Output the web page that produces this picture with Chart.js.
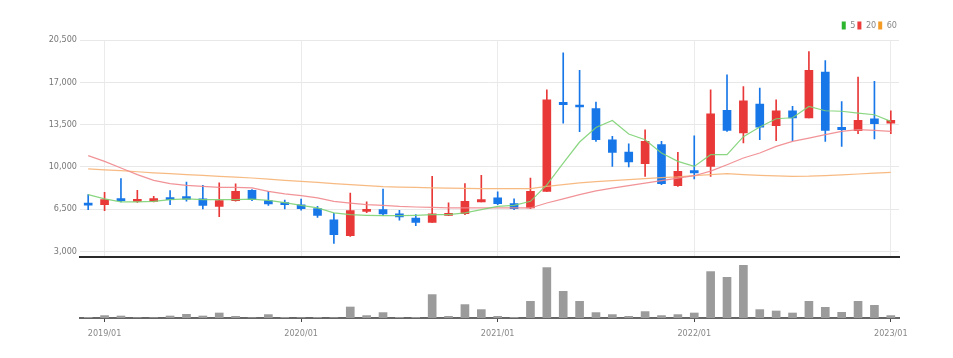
<!DOCTYPE html>
<html><head><meta charset="utf-8">
<script src="https://cdn.jsdelivr.net/npm/chart.js@4.4.0/dist/chart.umd.min.js"></script>
<style>
html,body{margin:0;padding:0;background:#fff;}
#wrap{position:relative;width:953px;height:358px;overflow:hidden;background:#fff;}
#top{position:absolute;left:0;top:0;width:953px;height:265px;}
#vol{position:absolute;left:0;top:258px;width:953px;height:100px;}
</style></head><body>
<div id="wrap"><canvas id="top" width="953" height="265"></canvas><canvas id="vol" width="953" height="100"></canvas></div>
<script>
const months = ['2018/12','2019/01','2019/02','2019/03','2019/04','2019/05','2019/06','2019/07','2019/08','2019/09','2019/10','2019/11','2019/12',
'2020/01','2020/02','2020/03','2020/04','2020/05','2020/06','2020/07','2020/08','2020/09','2020/10','2020/11','2020/12',
'2021/01','2021/02','2021/03','2021/04','2021/05','2021/06','2021/07','2021/08','2021/09','2021/10','2021/11','2021/12',
'2022/01','2022/02','2022/03','2022/04','2022/05','2022/06','2022/07','2022/08','2022/09','2022/10','2022/11','2022/12','2023/01'];

const opens  = [6990,6860,7340,7140,7140,7360,7530,7340,6720,7200,8050,7200,7010,6840,6530,5600,4300,6310,6450,6100,5760,5400,5980,6120,7090,7420,6950,6590,7960,15330,15080,14810,12240,11220,10260,11830,8440,9680,10030,14670,12800,15200,13400,14640,14040,17840,13260,12990,13980,13620];
const highs  = [7690,7880,9020,8050,7550,8020,8740,8460,8680,8580,8110,7960,7240,7320,6720,6140,7830,7090,8160,6390,6040,9210,7010,8600,9290,7920,7340,9070,16380,19440,17980,15360,12520,11910,13070,12100,11190,12570,16380,17620,16650,16520,15550,15000,19550,18800,15410,17430,17070,14640];
const lows   = [6450,6370,7090,7050,7090,6860,7150,6510,5870,7150,7200,6800,6510,6410,5810,3660,4240,6200,5950,5570,5130,5400,5950,6040,7090,6860,6450,6530,7960,13620,12900,12100,10030,9980,9210,8520,8380,8990,9210,12930,11970,12240,12160,12160,14040,12100,11690,12740,12300,12740];
const closes = [6820,7280,7200,7280,7360,7280,7320,6800,7200,7960,7280,6920,6860,6530,5980,4380,6370,6450,6100,5850,5400,6100,6120,7140,7280,6950,6530,7960,15550,15140,14950,12240,11190,10400,12100,8600,9620,9490,14390,13010,15470,13290,14640,14040,17980,13010,13070,13840,13570,13840];

const ma5  = [7690,7340,7090,7090,7140,7280,7340,7280,7280,7280,7320,7210,7030,6810,6590,6180,6040,5980,5950,5950,5980,6040,6040,6180,6450,6720,6810,7140,8500,10300,12050,13250,13840,12710,12240,11140,10450,10030,11000,11000,12490,13290,13980,14060,15000,14640,14600,14450,14310,13760];
const ma20 = [10920,10450,9900,9350,8880,8600,8460,8380,8300,8300,8250,7960,7750,7610,7420,7140,6990,6860,6810,6720,6670,6640,6590,6590,6590,6590,6590,6590,7000,7340,7690,8000,8230,8440,8640,8850,9060,9260,9640,10170,10730,11140,11690,12100,12380,12660,12930,13070,13010,12930];
const ma60 = [9820,9740,9680,9590,9500,9430,9350,9280,9210,9140,9070,8970,8880,8790,8710,8600,8520,8440,8350,8310,8290,8250,8230,8210,8190,8190,8190,8190,8380,8520,8660,8770,8850,8930,9020,9100,9160,9260,9350,9430,9350,9290,9250,9210,9220,9260,9330,9400,9470,9540];

const volumes = [7000,24000,20000,4000,4000,20000,37000,20000,50000,17000,4000,34000,7000,4000,7000,4000,110000,24000,54000,7000,7000,234000,17000,134000,84000,17000,7000,167000,504000,267000,167000,54000,34000,17000,64000,24000,34000,50000,464000,407000,527000,84000,70000,50000,167000,107000,57000,167000,127000,24000];

const yTicks = [3000,6500,10000,13500,17000,20500];
const maNames = ['5','20','60'];

const UP = '#e93838', DOWN = '#1877e8';
const FONT = "'Liberation Sans Narrow','DejaVu Sans Condensed','Roboto',sans-serif";
Chart.defaults.font.family = FONT;
Chart.defaults.font.size = 9;
Chart.defaults.color = '#777';

const isJan = i => months[i] && months[i].endsWith('/01');
const candleColor = c => closes[c.dataIndex] >= opens[c.dataIndex] ? UP : DOWN;

new Chart(document.getElementById('top'), {
  data: {
    labels: months,
    datasets: [
      {type:'line', label: maNames[0], data: ma5, borderColor:'rgba(125,210,115,0.9)', backgroundColor:'rgba(125,210,115,0.9)', legendColor:'#2db52d', borderWidth:1.2, pointRadius:0, tension:0, order:0},
      {type:'line', label: maNames[1], data: ma20, borderColor:'rgba(240,135,140,0.9)', backgroundColor:'rgba(240,135,140,0.9)', legendColor:'#ee3b3b', borderWidth:1.2, pointRadius:0, tension:0, order:0},
      {type:'line', label: maNames[2], data: ma60, borderColor:'rgba(246,178,118,0.9)', backgroundColor:'rgba(246,178,118,0.9)', legendColor:'#f49b26', borderWidth:1.2, pointRadius:0, tension:0, order:0},
      {type:'bar', label:'body', data: opens.map((o,i)=>[o, closes[i]]), backgroundColor: candleColor, barThickness:8, grouped:false, minBarLength:2, order:1},
      {type:'bar', label:'wick', data: lows.map((l,i)=>[l, highs[i]]), backgroundColor: candleColor, barThickness:1, grouped:false, order:2}
    ]
  },
  options: {
    responsive:false, animation:false,
    layout:{padding:{left:0,right:54,top:19,bottom:0}},
    plugins:{
      tooltip:{enabled:false},
      legend:{
        display:true, position:'top', align:'end',
        labels:{
          boxWidth:4, boxHeight:8, padding:2, color:'#888', font:{size:9},
          generateLabels: chart => Chart.defaults.plugins.legend.labels.generateLabels(chart)
            .filter(l => chart.data.datasets[l.datasetIndex].legendColor)
            .map(l => { const c = chart.data.datasets[l.datasetIndex].legendColor; l.fillStyle=c; l.strokeStyle=c; l.lineWidth=0; return l; })
        }
      }
    },
    scales:{
      x:{
        offset:true,
        grid:{offset:false, drawTicks:false, lineWidth:1, color: c => (c.tick && isJan(c.index)) ? '#ebebeb' : 'rgba(0,0,0,0)'},
        border:{display:true, color:'#2a2a2a', width:2},
        ticks:{display:false, autoSkip:false},
        afterFit: s => { s.height = 0; }
      },
      y:{
        min:2561, max:20500,
        afterBuildTicks: s => { s.ticks = yTicks.map(v => ({value:v})); },
        grid:{color:'#e8e8e8', drawTicks:false},
        border:{display:false},
        ticks:{padding:3, color:'#777', callback: v => Number(v).toLocaleString('en-US')},
        afterFit: s => { s.width = 80; }
      }
    }
  }
});

new Chart(document.getElementById('vol'), {
  type:'bar',
  data:{
    labels: months,
    datasets:[{label:'volume', data: volumes, backgroundColor:'#9b9b9b', barThickness:8}]
  },
  options:{
    responsive:false, animation:false,
    layout:{padding:{left:80,right:54,top:4,bottom:0}},
    plugins:{legend:{display:false}, tooltip:{enabled:false}},
    scales:{
      x:{
        offset:true,
        grid:{offset:false, drawOnChartArea:false, drawTicks:true, tickLength:4, color:'rgba(0,0,0,0)', tickColor: c => isJan(c.index) ? '#444' : 'rgba(0,0,0,0)'},
        border:{display:true, color:'#666', width:2},
        ticks:{autoSkip:false, maxRotation:0, padding:6, color:'#888', callback: (v,i) => isJan(i) ? months[i] : ''},
        afterFit: s => { s.height = 40; }
      },
      y:{display:false, min:0, max:560000}
    }
  }
});
</script>
</body></html>
